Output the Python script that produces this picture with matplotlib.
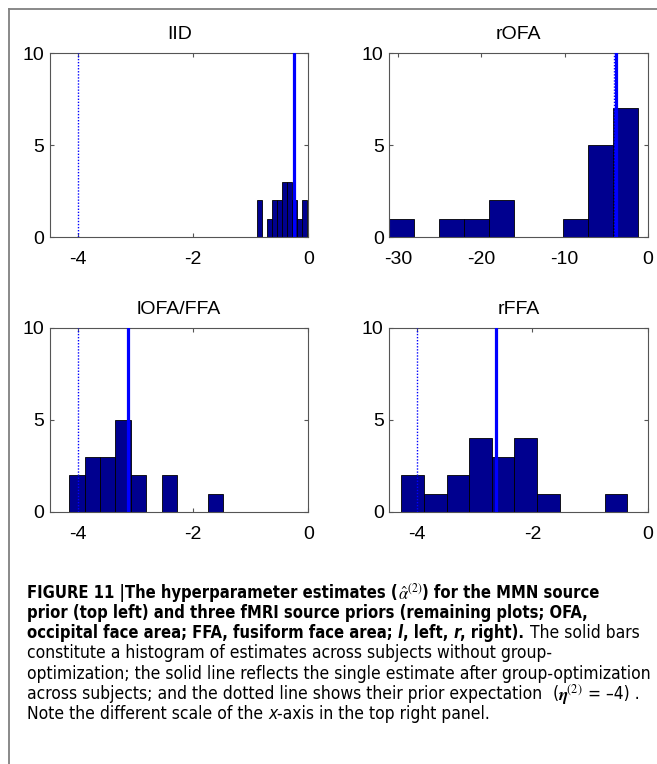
import matplotlib
matplotlib.use('Agg')
import matplotlib.pyplot as plt
from matplotlib.lines import Line2D
import numpy as np

plt.rcParams['font.family'] = ['Liberation Sans', 'DejaVu Sans']
plt.rcParams['mathtext.fontset'] = 'stix'
plt.rcParams['axes.unicode_minus'] = False

# histogram counts (10 bins), bin range (first left edge, last right edge),
# group-optimised estimate for each source prior
iid_counts = [2, 0, 1, 2, 2, 3, 3, 2, 1, 2]
iid_range = (-0.893, -0.023)
iid_group = -0.243

rofa_counts = [1, 0, 1, 1, 2, 0, 0, 1, 5, 7]
rofa_range = (-31.08, -1.16)
rofa_group = -3.85

lofa_counts = [2, 3, 3, 5, 2, 0, 2, 0, 0, 1]
lofa_range = (-4.145, -1.478)
lofa_group = -3.13

rffa_counts = [2, 1, 2, 4, 3, 4, 1, 0, 0, 1]
rffa_range = (-4.272, -0.353)
rffa_group = -2.636

prior_mean = -4
small_ticks = [-4, -2, 0]
wide_ticks = [-30, -20, -10, 0]
y_ticks = [0, 5, 10]

W, H = 657, 764
fig = plt.figure(figsize=(W / 100, H / 100), dpi=100)


def draw_panel(rect, title, counts, rng, group, xlim, xticks):
    ax = fig.add_axes(rect)
    edges = np.linspace(rng[0], rng[1], len(counts) + 1)
    ax.bar(edges[:-1], counts, width=np.diff(edges), align='edge',
           color='#00008f', edgecolor='black', linewidth=0.6, zorder=2)
    ax.axvline(group, color='#0000ff', lw=2.3, zorder=3)
    ax.axvline(prior_mean, color='#0000ff', lw=1.0, linestyle=(0, (1, 1.2)), zorder=3)
    ax.set_xlim(*xlim)
    ax.set_ylim(0, 10)
    ax.set_xticks(xticks)
    ax.set_yticks(y_ticks)
    ax.set_title(title, fontsize=14, pad=10)
    ax.tick_params(direction='in', length=3, top=True, right=True,
                   labelsize=14, color='#555555')
    ax.tick_params(axis='x', pad=10)
    ax.tick_params(axis='y', pad=4)
    for s in ax.spines.values():
        s.set_color('#555555')
        s.set_linewidth(0.8)
    return ax


lx, rx, aw = 50 / W, 389.3 / W, 258.4 / W
ty, by, ah = 1 - 237 / H, 1 - 512 / H, 184 / H

draw_panel([lx, ty, aw, ah], 'IID', iid_counts, iid_range, iid_group, (-4.48, 0.0), small_ticks)
draw_panel([rx, ty, aw, ah], 'rOFA', rofa_counts, rofa_range, rofa_group, (-31.08, 0.0), wide_ticks)
draw_panel([lx, by, aw, ah], 'lOFA/FFA', lofa_counts, lofa_range, lofa_group, (-4.48, 0.0), small_ticks)
draw_panel([rx, by, aw, ah], 'rFFA', rffa_counts, rffa_range, rffa_group, (-4.48, 0.0), small_ticks)

# corner frame (left and top rules)
fig.add_artist(Line2D([9 / W, 9 / W], [0, 1 - 9 / H], transform=fig.transFigure,
                      color='#808080', lw=1.3))
fig.add_artist(Line2D([9 / W, 1], [1 - 9 / H, 1 - 9 / H], transform=fig.transFigure,
                      color='#808080', lw=1.3))

# caption: (text, weight, style, spaces before)
cap_font = ['DejaVu Sans']
cap_stretch = 'condensed'
B, N = 'bold', 'normal'
caption = [
    [('FIGURE 11 |The hyperparameter estimates (', B, N, 0), ('$\\hat{\\alpha}^{(2)}$', B, N, 0),
     (') for the MMN source', B, N, 0)],
    [('prior (top left) and three fMRI source priors (remaining plots; OFA,', B, N, 0)],
    [('occipital face area; FFA, fusiform face area;', B, N, 0), ('l', B, 'italic', 1),
     (', left,', B, N, 0), ('r', B, 'italic', 1), (', right).', B, N, 0),
     ('The solid bars', N, N, 1)],
    [('constitute a histogram of estimates across subjects without group-', N, N, 0)],
    [('optimization; the solid line reflects the single estimate after group-optimization', N, N, 0)],
    [('across subjects; and the dotted line shows their prior expectation', N, N, 0),
     ('(', N, N, 2), ('$\\boldsymbol{\\eta}^{(2)}$', N, N, 0), ('= \u20134) .', N, N, 1)],
    [('Note the different scale of the', N, N, 0), ('x', N, 'italic', 1),
     ('-axis in the top right panel.', N, N, 0)],
]
line_y = [591, 611, 631, 651, 672, 692, 712]

fig.canvas.draw()
rend = fig.canvas.get_renderer()

probe = fig.text(0, 0, caption[4][0][0], fontsize=12, family=cap_font, fontstretch=cap_stretch)
size = 12 * 621 / probe.get_window_extent(rend).width
probe.remove()
bold_size = size * 0.955

sp = fig.text(0, 0, 'a a', fontsize=size, family=cap_font, fontstretch=cap_stretch)
sp2 = fig.text(0, 0, 'aa', fontsize=size, family=cap_font, fontstretch=cap_stretch)
space_w = sp.get_window_extent(rend).width - sp2.get_window_extent(rend).width
sp.remove()
sp2.remove()

for yy, parts in zip(line_y, caption):
    x = 27
    for txt, weight, style, gap in parts:
        x += gap * space_w
        fs = bold_size if weight == B else size
        t = fig.text(x / W, 1 - yy / H, txt, fontsize=fs, fontweight=weight,
                     fontstyle=style, family=cap_font, fontstretch=cap_stretch,
                     ha='left', va='center_baseline')
        x += t.get_window_extent(rend).width

fig.savefig('out.png', dpi=100)
